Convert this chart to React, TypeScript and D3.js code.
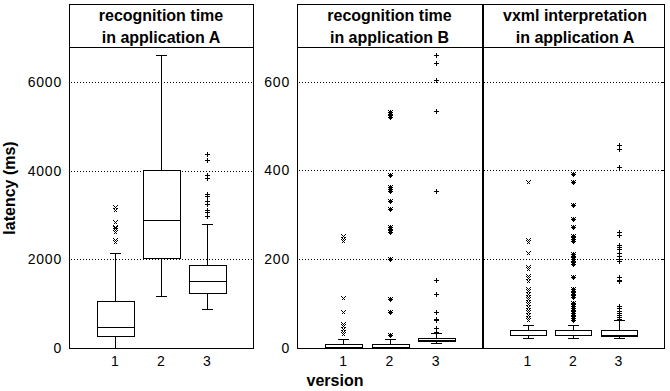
import React from "react";
import * as d3 from "d3";

// ---------- data ----------
const categories = ["1", "2", "3"];
const markerShapes = ["x", "*", "+"];

const titlesA = ["recognition time", "in application A"];
const titlesB = ["recognition time", "in application B"];
const titlesC = ["vxml interpretation", "in application A"];

const yTicksA = [0, 2000, 4000, 6000];
const yTicksB = [0, 200, 400, 600];

// [low whisker, q1, median, q3, high whisker]
const recogAStats = [
  [0, 277, 480, 1060, 2150],
  [1173, 2030, 2894, 4015, 6600],
  [886, 1240, 1518, 1863, 2804],
];
const recogAOutliers = [
  [3181, 3120, 2850, 2740, 2700, 2660, 2620, 2440, 2380],
  [],
  [4381, 4246, 3893, 3835, 3470, 3430, 3307, 3248, 3120, 3059, 2969],
];

const recogBStats = [
  [0, 0, 2, 10, 20],
  [0, 0, 2, 10, 20],
  [11, 15, 18, 22.5, 34],
];
const recogBOutliers = [
  [252, 246, 240, 113, 81, 55, 49, 43, 37, 32],
  [531, 526, 521, 390, 363, 358, 353, 332, 313, 273, 267, 261, 200, 110, 82, 30],
  [661, 641, 604, 533, 353, 153, 122, 80, 65, 62, 45, 37],
];

const vxmlStats = [
  [22.5, 30, 30, 40.6, 51],
  [22.5, 30, 30, 40.6, 51],
  [23, 26, 30, 40.6, 64],
];
const vxmlOutliers = [
  [373, 244, 238, 213, 183, 177, 163, 158, 152, 134, 128, 122, 116, 110, 104, 98, 92, 86, 80, 74, 68, 62],
  [391, 373, 321, 291, 273, 252, 246, 240, 212, 207, 201, 195, 190, 160, 133, 128, 122, 116, 101, 95, 90, 85, 79, 74, 68, 62],
  [457, 449, 407, 261, 255, 232, 228, 222, 214, 208, 200, 197, 160, 154, 150, 94, 89, 84, 79, 74, 70, 66],
];

const yLabel = "latency (ms)";
const xLabel = "version";

// ---------- layout ----------
const W = 670;
const H = 391;
const TOP = 4;
const HEAD = 47;
const BOTTOM = 348;
const FONT = "'Liberation Sans', Arial, sans-serif";

function markerPath(shape: string, cx: number, cy: number) {
  const s = 2.5;
  const x = Math.round(cx) + 0.5;
  const y = Math.round(cy) + 0.5;
  const plus = `M${x - s},${y}H${x + s}M${x},${y - s}V${y + s}`;
  const cross = `M${x - 2},${y - 2}L${x + 2},${y + 2}M${x - 2},${y + 2}L${x + 2},${y - 2}`;
  if (shape === "+") return plus;
  if (shape === "x") return cross;
  return plus + cross;
}

function Panel({
  x0,
  x1,
  yMax,
  ticks,
  stats,
  outliers,
  showTickLabels,
  titleLines,
  titleCx,
  rightTicks,
}: any) {
  const x = d3.scaleLinear().domain([0, 4]).range([x0, x1]);
  const y = d3.scaleLinear().domain([0, yMax]).range([BOTTOM, HEAD]);
  const halfBox = (x(0.8) - x(0)) / 2;
  const halfCap = (x(0.22) - x(0)) / 2;
  const px = (v: number) => Math.round(v) + 0.5;
  return (
    <g>
      {/* grid */}
      {ticks
        .filter((t: number) => t > 0)
        .map((t: number) => (
          <line
            key={"g" + t}
            x1={x0 + 2}
            x2={x1}
            y1={px(y(t))}
            y2={px(y(t))}
            stroke="#000"
            strokeDasharray="1,2"
            shapeRendering="crispEdges"
          />
        ))}
      {rightTicks &&
        ticks
          .filter((t: number) => t > 0)
          .map((t: number) => (
            <line
              key={"rt" + t}
              x1={x1 - 3}
              x2={x1}
              y1={px(y(t))}
              y2={px(y(t))}
              stroke="#000"
              shapeRendering="crispEdges"
            />
          ))}
      {showTickLabels &&
        ticks.map((t: number) => (
          <text
            key={"tl" + t}
            x={x0 - 7}
            y={y(t) + 5}
            textAnchor="end"
            fontSize={14}
            fontFamily={FONT}
            letterSpacing={0.8}
          >
            {t}
          </text>
        ))}
      {/* boxes */}
      {stats.map((s: number[], i: number) => {
        const cx = px(x(i + 1));
        const [lo, q1, med, q3, hi] = s;
        return (
          <g key={"b" + i} stroke="#000" fill="none" shapeRendering="crispEdges">
            <line x1={cx} x2={cx} y1={px(y(hi))} y2={px(y(q3))} />
            <line x1={cx} x2={cx} y1={px(y(q1))} y2={px(y(lo))} />
            <line x1={cx - halfCap} x2={cx + halfCap} y1={px(y(hi))} y2={px(y(hi))} />
            <line x1={cx - halfCap} x2={cx + halfCap} y1={px(y(lo))} y2={px(y(lo))} />
            <rect
              x={Math.round(cx - halfBox) + 0.5}
              y={px(y(q3))}
              width={Math.round(2 * halfBox)}
              height={Math.max(px(y(q1)) - px(y(q3)), 0)}
              fill="#fff"
            />
            <line
              x1={Math.round(cx - halfBox) + 0.5}
              x2={Math.round(cx - halfBox) + 0.5 + Math.round(2 * halfBox)}
              y1={px(y(med))}
              y2={px(y(med))}
            />
          </g>
        );
      })}
      {/* outliers */}
      {outliers.map((arr: number[], i: number) => (
        <path
          key={"o" + i}
          d={arr.map((v) => markerPath(markerShapes[i], x(i + 1), y(v))).join("")}
          stroke="#000"
          fill="none"
          shapeRendering="crispEdges"
        />
      ))}
      {/* x tick labels */}
      {categories.map((c, i) => (
        <text
          key={"xl" + c}
          x={x(i + 1)}
          y={366}
          textAnchor="middle"
          fontSize={14}
          fontFamily={FONT}
        >
          {c}
        </text>
      ))}
      {/* title */}
      {titleLines.map((t: string, i: number) => (
        <text
          key={"t" + i}
          x={titleCx}
          y={21 + i * 22}
          textAnchor="middle"
          fontSize={16}
          fontWeight="bold"
          fontFamily={FONT}
        >
          {t}
        </text>
      ))}
    </g>
  );
}

export default function App() {
  const aX0 = 69,
    aX1 = 253;
  const bX0 = 297,
    bX1 = 482,
    cX1 = 664;
  return (
    <svg
      width={W}
      height={H}
      style={{ position: "absolute", left: 0, top: 0, background: "#fff" }}
    >
      <rect width={W} height={H} fill="#fff" />
      <Panel
        x0={aX0}
        x1={aX1}
        yMax={6790}
        ticks={yTicksA}
        stats={recogAStats}
        outliers={recogAOutliers}
        showTickLabels
        titleLines={titlesA}
        titleCx={(aX0 + aX1) / 2}
      />
      <Panel
        x0={bX0}
        x1={bX1}
        yMax={678}
        ticks={yTicksB}
        stats={recogBStats}
        outliers={recogBOutliers}
        showTickLabels
        titleLines={titlesB}
        titleCx={(bX0 + bX1) / 2}
      />
      <Panel
        x0={bX1}
        x1={cX1}
        yMax={678}
        ticks={yTicksB}
        stats={vxmlStats}
        outliers={vxmlOutliers}
        showTickLabels={false}
        titleLines={titlesC}
        titleCx={(bX1 + cX1) / 2 + 2}
        rightTicks
      />
      {/* frames */}
      <g stroke="#000" fill="none" shapeRendering="crispEdges">
        <rect x={aX0 + 0.5} y={TOP + 0.5} width={aX1 - aX0} height={BOTTOM - TOP} />
        <line x1={aX0} x2={aX1} y1={HEAD + 0.5} y2={HEAD + 0.5} />
        <rect x={bX0 + 0.5} y={TOP + 0.5} width={cX1 - bX0} height={BOTTOM - TOP} />
        <line x1={bX0} x2={cX1} y1={HEAD + 0.5} y2={HEAD + 0.5} />
        <line x1={bX1 + 0.5} x2={bX1 + 0.5} y1={TOP} y2={BOTTOM + 1} strokeWidth={2} />
      </g>
      {/* axis labels */}
      <text
        transform={`translate(15,188) rotate(-90)`}
        textAnchor="middle"
        fontSize={16}
        fontWeight="bold"
        fontFamily={FONT}
      >
        {yLabel}
      </text>
      <text
        x={335}
        y={386}
        textAnchor="middle"
        fontSize={16}
        fontWeight="bold"
        fontFamily={FONT}
      >
        {xLabel}
      </text>
    </svg>
  );
}
